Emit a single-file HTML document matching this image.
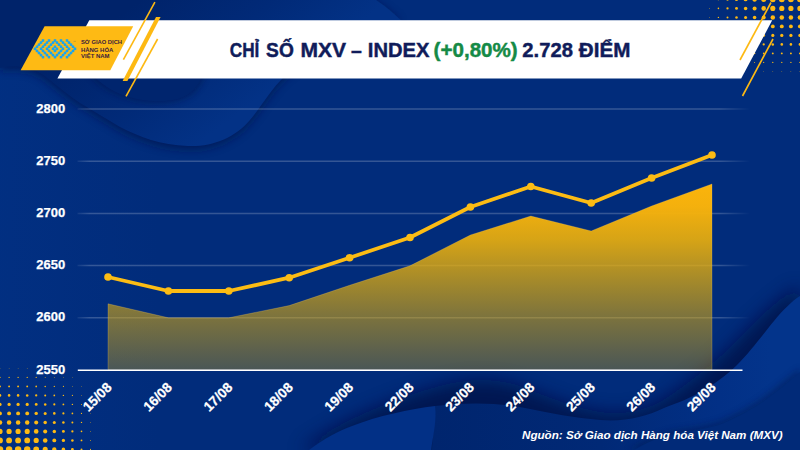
<!DOCTYPE html>
<html lang="vi"><head><meta charset="utf-8"><title>Chỉ số MXV-Index</title>
<style>
html,body{margin:0;padding:0;background:#012c7b;}
body{width:800px;height:450px;overflow:hidden;position:relative;font-family:"Liberation Sans",sans-serif;}
svg{position:absolute;left:0;top:0;display:block}
text{font-family:"Liberation Sans",sans-serif;}
</style></head><body>
<svg width="800" height="450" viewBox="0 0 800 450">
<defs>
<linearGradient id="ag" gradientUnits="userSpaceOnUse" x1="0" y1="184" x2="0" y2="370">
<stop offset="0" stop-color="#fbb40b" stop-opacity="1"/>
<stop offset="0.12" stop-color="#f9b30b" stop-opacity="0.98"/>
<stop offset="0.3" stop-color="#eeb10b" stop-opacity="0.9"/>
<stop offset="0.57" stop-color="#e2ad0c" stop-opacity="0.68"/>
<stop offset="0.72" stop-color="#dfac0c" stop-opacity="0.55"/>
<stop offset="1" stop-color="#deac0c" stop-opacity="0.33"/>
</linearGradient>
<linearGradient id="w1" gradientUnits="userSpaceOnUse" x1="100" y1="30" x2="190" y2="150">
<stop offset="0" stop-color="#00236a"/><stop offset="0.55" stop-color="#012a78"/><stop offset="1" stop-color="#033286"/>
</linearGradient>
<linearGradient id="lg" gradientUnits="userSpaceOnUse" x1="0" y1="0" x2="160" y2="0">
<stop offset="0" stop-color="#023083" stop-opacity="0.8"/><stop offset="1" stop-color="#023083" stop-opacity="0"/>
</linearGradient>
<filter id="bl5" x="-10%" y="-20%" width="120%" height="140%"><feGaussianBlur stdDeviation="5"/></filter>
<filter id="bl7" x="-10%" y="-30%" width="120%" height="160%"><feGaussianBlur stdDeviation="7"/></filter>
<linearGradient id="w2" gradientUnits="userSpaceOnUse" x1="432" y1="0" x2="770" y2="0"><stop offset="0" stop-color="#00256e"/><stop offset="0.5" stop-color="#012976"/><stop offset="0.85" stop-color="#023086"/><stop offset="1" stop-color="#03348b"/></linearGradient>
<filter id="bl9" x="-10%" y="-40%" width="120%" height="180%"><feGaussianBlur stdDeviation="9"/></filter>
<linearGradient id="gl" gradientUnits="userSpaceOnUse" x1="76" y1="0" x2="750" y2="0"><stop offset="0" stop-color="#fff" stop-opacity="0.05"/><stop offset="0.02" stop-color="#fff" stop-opacity="0.2"/><stop offset="0.955" stop-color="#fff" stop-opacity="0.2"/><stop offset="1" stop-color="#fff" stop-opacity="0"/></linearGradient>
<filter id="bl" x="-10%" y="-10%" width="120%" height="120%"><feGaussianBlur stdDeviation="3"/></filter>
</defs>
<rect width="800" height="450" fill="#012c7b"/>
<!-- background waves -->
<rect x="0" y="60" width="160" height="390" fill="url(#lg)"/>
<g>
<path d="M0,0 H372 C385,8 392,16 400,21 C370,30 320,50 285,78 C270,92 262,108 250,122 C235,140 212,150 188,149 C160,148 140,140 120,130 C100,118 90,112 80,106 C62,94 50,82 40,76 C30,70 14,68 0,71 Z" fill="#00134a" opacity="0.7" filter="url(#bl5)"/>
<path d="M0,0 H376 C388,8 395,15 402,21 C372,30 320,48 285,76 C270,90 262,106 250,120 C235,138 212,147 188,146 C160,145 140,137 120,127 C100,115 90,109 80,103 C62,91 50,79 40,73 C30,67 14,65 0,68 Z" fill="url(#w1)"/>
<path d="M80,60 C90,80 105,90 120,96 C135,102 150,104 165,103 C185,102 198,94 204,78 L210,60 Z" fill="#00134a" opacity="0.45" filter="url(#bl)"/>
<path d="M82,60 C92,78 106,88 120,94 C135,100 150,102 165,101 C184,100 196,92 202,76 L208,60 Z" fill="#00256e"/>
</g>
<g>
<path d="M300,450 C320,436 335,428 350,420 C375,408 410,394 440,386 C470,378 500,378 525,388 C550,398 575,408 600,412 C625,416 645,410 662,401 C688,384 716,362 738,340 C760,316 782,296 800,286 V450 Z" fill="#000f40" opacity="0.7" filter="url(#bl9)"/>
<path d="M432,450 L435,406 C470,402 500,403 525,408 C550,413 575,418 600,420 C625,422 645,417 664,408 C680,402 690,398 699,393 C712,386 728,374 737,365 C750,352 764,333 774,321 C782,311 792,301 800,296 V450 Z" fill="url(#w2)"/>
<path d="M309,450 C325,438 338,431 352,426 C377,416 410,409 435,406 C437,420 433,436 431,450 Z" fill="#023086"/>
<path d="M628,450 C650,436 665,432 682,429 C700,426 712,424 722,420 C740,412 750,406 762,398 C778,386 790,376 800,368 V450 Z" fill="#00134a" opacity="0.4" filter="url(#bl)"/>
<path d="M634,450 C654,438 668,435 684,432 C702,429 714,427 724,423 C742,415 752,409 764,401 C780,389 792,379 800,372 V450 Z" fill="#012a78"/>
</g>
<!-- halftone dots -->
<g fill="#fdb913">
<circle cx="709.4" cy="-0.6" r="0.47"/>
<circle cx="718.4" cy="-0.6" r="0.90"/>
<circle cx="727.5" cy="-0.6" r="1.27"/>
<circle cx="736.5" cy="-0.6" r="1.62"/>
<circle cx="745.6" cy="-0.6" r="1.96"/>
<circle cx="754.6" cy="-0.6" r="2.27"/>
<circle cx="763.7" cy="-0.6" r="2.58"/>
<circle cx="772.8" cy="-0.6" r="2.88"/>
<circle cx="781.8" cy="-0.6" r="2.92"/>
<circle cx="790.9" cy="-0.6" r="2.92"/>
<circle cx="799.9" cy="-0.6" r="2.92"/>
<circle cx="709.4" cy="8.4" r="0.42"/>
<circle cx="718.4" cy="8.4" r="0.80"/>
<circle cx="727.5" cy="8.4" r="1.13"/>
<circle cx="736.5" cy="8.4" r="1.44"/>
<circle cx="745.6" cy="8.4" r="1.74"/>
<circle cx="754.6" cy="8.4" r="2.02"/>
<circle cx="763.7" cy="8.4" r="2.29"/>
<circle cx="772.8" cy="8.4" r="2.56"/>
<circle cx="781.8" cy="8.4" r="2.60"/>
<circle cx="790.9" cy="8.4" r="2.60"/>
<circle cx="799.9" cy="8.4" r="2.60"/>
<circle cx="709.4" cy="17.4" r="0.37"/>
<circle cx="718.4" cy="17.4" r="0.70"/>
<circle cx="727.5" cy="17.4" r="0.99"/>
<circle cx="736.5" cy="17.4" r="1.26"/>
<circle cx="745.6" cy="17.4" r="1.52"/>
<circle cx="754.6" cy="17.4" r="1.77"/>
<circle cx="763.7" cy="17.4" r="2.01"/>
<circle cx="772.8" cy="17.4" r="2.24"/>
<circle cx="781.8" cy="17.4" r="2.27"/>
<circle cx="790.9" cy="17.4" r="2.27"/>
<circle cx="799.9" cy="17.4" r="2.27"/>
<circle cx="709.4" cy="26.4" r="0.31"/>
<circle cx="718.4" cy="26.4" r="0.60"/>
<circle cx="727.5" cy="26.4" r="0.85"/>
<circle cx="736.5" cy="26.4" r="1.08"/>
<circle cx="745.6" cy="26.4" r="1.30"/>
<circle cx="754.6" cy="26.4" r="1.51"/>
<circle cx="763.7" cy="26.4" r="1.72"/>
<circle cx="772.8" cy="26.4" r="1.92"/>
<circle cx="781.8" cy="26.4" r="1.94"/>
<circle cx="790.9" cy="26.4" r="1.94"/>
<circle cx="799.9" cy="26.4" r="1.94"/>
<circle cx="709.4" cy="35.4" r="0.26"/>
<circle cx="718.4" cy="35.4" r="0.50"/>
<circle cx="727.5" cy="35.4" r="0.70"/>
<circle cx="736.5" cy="35.4" r="0.90"/>
<circle cx="745.6" cy="35.4" r="1.08"/>
<circle cx="754.6" cy="35.4" r="1.26"/>
<circle cx="763.7" cy="35.4" r="1.43"/>
<circle cx="772.8" cy="35.4" r="1.59"/>
<circle cx="781.8" cy="35.4" r="1.62"/>
<circle cx="790.9" cy="35.4" r="1.62"/>
<circle cx="799.9" cy="35.4" r="1.62"/>
<circle cx="718.4" cy="44.4" r="0.40"/>
<circle cx="727.5" cy="44.4" r="0.56"/>
<circle cx="736.5" cy="44.4" r="0.72"/>
<circle cx="745.6" cy="44.4" r="0.86"/>
<circle cx="754.6" cy="44.4" r="1.00"/>
<circle cx="763.7" cy="44.4" r="1.14"/>
<circle cx="772.8" cy="44.4" r="1.27"/>
<circle cx="781.8" cy="44.4" r="1.29"/>
<circle cx="790.9" cy="44.4" r="1.29"/>
<circle cx="799.9" cy="44.4" r="1.29"/>
<circle cx="718.4" cy="53.4" r="0.30"/>
<circle cx="727.5" cy="53.4" r="0.42"/>
<circle cx="736.5" cy="53.4" r="0.54"/>
<circle cx="745.6" cy="53.4" r="0.65"/>
<circle cx="754.6" cy="53.4" r="0.75"/>
<circle cx="763.7" cy="53.4" r="0.85"/>
<circle cx="772.8" cy="53.4" r="0.95"/>
<circle cx="781.8" cy="53.4" r="0.96"/>
<circle cx="790.9" cy="53.4" r="0.96"/>
<circle cx="799.9" cy="53.4" r="0.96"/>
<circle cx="727.5" cy="62.4" r="0.28"/>
<circle cx="736.5" cy="62.4" r="0.35"/>
<circle cx="745.6" cy="62.4" r="0.43"/>
<circle cx="754.6" cy="62.4" r="0.50"/>
<circle cx="763.7" cy="62.4" r="0.56"/>
<circle cx="772.8" cy="62.4" r="0.63"/>
<circle cx="781.8" cy="62.4" r="0.64"/>
<circle cx="790.9" cy="62.4" r="0.64"/>
<circle cx="799.9" cy="62.4" r="0.64"/>
<circle cx="763.7" cy="71.4" r="0.28"/>
<circle cx="772.8" cy="71.4" r="0.31"/>
<circle cx="781.8" cy="71.4" r="0.31"/>
<circle cx="790.9" cy="71.4" r="0.31"/>
<circle cx="799.9" cy="71.4" r="0.31"/>
<circle cx="0.0" cy="368.4" r="0.30"/>
<circle cx="9.1" cy="368.4" r="0.30"/>
<circle cx="18.1" cy="368.4" r="0.30"/>
<circle cx="27.2" cy="368.4" r="0.30"/>
<circle cx="36.2" cy="368.4" r="0.27"/>
<circle cx="0.0" cy="377.4" r="0.63"/>
<circle cx="9.1" cy="377.4" r="0.63"/>
<circle cx="18.1" cy="377.4" r="0.63"/>
<circle cx="27.2" cy="377.4" r="0.62"/>
<circle cx="36.2" cy="377.4" r="0.56"/>
<circle cx="45.2" cy="377.4" r="0.49"/>
<circle cx="54.3" cy="377.4" r="0.42"/>
<circle cx="63.4" cy="377.4" r="0.35"/>
<circle cx="72.4" cy="377.4" r="0.28"/>
<circle cx="0.0" cy="386.4" r="0.96"/>
<circle cx="9.1" cy="386.4" r="0.96"/>
<circle cx="18.1" cy="386.4" r="0.96"/>
<circle cx="27.2" cy="386.4" r="0.94"/>
<circle cx="36.2" cy="386.4" r="0.85"/>
<circle cx="45.2" cy="386.4" r="0.75"/>
<circle cx="54.3" cy="386.4" r="0.64"/>
<circle cx="63.4" cy="386.4" r="0.53"/>
<circle cx="72.4" cy="386.4" r="0.42"/>
<circle cx="81.5" cy="386.4" r="0.30"/>
<circle cx="0.0" cy="395.4" r="1.28"/>
<circle cx="9.1" cy="395.4" r="1.28"/>
<circle cx="18.1" cy="395.4" r="1.28"/>
<circle cx="27.2" cy="395.4" r="1.27"/>
<circle cx="36.2" cy="395.4" r="1.14"/>
<circle cx="45.2" cy="395.4" r="1.00"/>
<circle cx="54.3" cy="395.4" r="0.86"/>
<circle cx="63.4" cy="395.4" r="0.71"/>
<circle cx="72.4" cy="395.4" r="0.56"/>
<circle cx="81.5" cy="395.4" r="0.40"/>
<circle cx="0.0" cy="404.4" r="1.61"/>
<circle cx="9.1" cy="404.4" r="1.61"/>
<circle cx="18.1" cy="404.4" r="1.61"/>
<circle cx="27.2" cy="404.4" r="1.59"/>
<circle cx="36.2" cy="404.4" r="1.42"/>
<circle cx="45.2" cy="404.4" r="1.25"/>
<circle cx="54.3" cy="404.4" r="1.08"/>
<circle cx="63.4" cy="404.4" r="0.90"/>
<circle cx="72.4" cy="404.4" r="0.70"/>
<circle cx="81.5" cy="404.4" r="0.50"/>
<circle cx="90.5" cy="404.4" r="0.26"/>
<circle cx="0.0" cy="413.4" r="1.94"/>
<circle cx="9.1" cy="413.4" r="1.94"/>
<circle cx="18.1" cy="413.4" r="1.94"/>
<circle cx="27.2" cy="413.4" r="1.91"/>
<circle cx="36.2" cy="413.4" r="1.71"/>
<circle cx="45.2" cy="413.4" r="1.51"/>
<circle cx="54.3" cy="413.4" r="1.30"/>
<circle cx="63.4" cy="413.4" r="1.08"/>
<circle cx="72.4" cy="413.4" r="0.85"/>
<circle cx="81.5" cy="413.4" r="0.60"/>
<circle cx="90.5" cy="413.4" r="0.32"/>
<circle cx="0.0" cy="422.4" r="2.26"/>
<circle cx="9.1" cy="422.4" r="2.26"/>
<circle cx="18.1" cy="422.4" r="2.26"/>
<circle cx="27.2" cy="422.4" r="2.23"/>
<circle cx="36.2" cy="422.4" r="2.00"/>
<circle cx="45.2" cy="422.4" r="1.76"/>
<circle cx="54.3" cy="422.4" r="1.52"/>
<circle cx="63.4" cy="422.4" r="1.26"/>
<circle cx="72.4" cy="422.4" r="0.99"/>
<circle cx="81.5" cy="422.4" r="0.70"/>
<circle cx="90.5" cy="422.4" r="0.37"/>
<circle cx="0.0" cy="431.4" r="2.59"/>
<circle cx="9.1" cy="431.4" r="2.59"/>
<circle cx="18.1" cy="431.4" r="2.59"/>
<circle cx="27.2" cy="431.4" r="2.56"/>
<circle cx="36.2" cy="431.4" r="2.29"/>
<circle cx="45.2" cy="431.4" r="2.02"/>
<circle cx="54.3" cy="431.4" r="1.74"/>
<circle cx="63.4" cy="431.4" r="1.44"/>
<circle cx="72.4" cy="431.4" r="1.13"/>
<circle cx="81.5" cy="431.4" r="0.80"/>
<circle cx="90.5" cy="431.4" r="0.42"/>
<circle cx="0.0" cy="440.4" r="2.91"/>
<circle cx="9.1" cy="440.4" r="2.91"/>
<circle cx="18.1" cy="440.4" r="2.91"/>
<circle cx="27.2" cy="440.4" r="2.88"/>
<circle cx="36.2" cy="440.4" r="2.58"/>
<circle cx="45.2" cy="440.4" r="2.27"/>
<circle cx="54.3" cy="440.4" r="1.95"/>
<circle cx="63.4" cy="440.4" r="1.62"/>
<circle cx="72.4" cy="440.4" r="1.27"/>
<circle cx="81.5" cy="440.4" r="0.90"/>
<circle cx="90.5" cy="440.4" r="0.48"/>
<circle cx="0.0" cy="449.4" r="3.24"/>
<circle cx="9.1" cy="449.4" r="3.24"/>
<circle cx="18.1" cy="449.4" r="3.24"/>
<circle cx="27.2" cy="449.4" r="3.20"/>
<circle cx="36.2" cy="449.4" r="2.87"/>
<circle cx="45.2" cy="449.4" r="2.53"/>
<circle cx="54.3" cy="449.4" r="2.17"/>
<circle cx="63.4" cy="449.4" r="1.81"/>
<circle cx="72.4" cy="449.4" r="1.42"/>
<circle cx="81.5" cy="449.4" r="1.00"/>
<circle cx="90.5" cy="449.4" r="0.53"/>
</g>
<!-- banner -->
<polygon points="89.3,20.3 772.2,20.3 741.2,78.5 57.4,78.5" fill="#ffffff"/>
<polygon points="44.6,26.2 133.2,26.2 110.3,70.3 20.6,70.3" fill="#feba14"/>
<g stroke="#fdb913" stroke-linecap="butt" fill="none">
<line x1="154.9" y1="2.2" x2="123.4" y2="59.6" stroke-width="1.6"/>
<polygon points="156,17 160.6,17 127.4,81 122.6,81" fill="#fdb913" stroke="none"/>
<line x1="157.6" y1="39" x2="126" y2="96.4" stroke-width="1.6"/>
<line x1="771" y1="2.5" x2="740" y2="60" stroke-width="1.6"/>
<line x1="773" y1="39" x2="742.5" y2="96" stroke-width="1.6"/>
</g>
<!-- logo -->
<g fill="none" stroke="#19a4f0" stroke-opacity="0.55" stroke-width="1.5" stroke-linecap="square"><polyline points="43.00,40.50 35.00,48.82 43.00,57.14"/><polyline points="49.00,40.50 41.00,48.82 49.00,57.14"/><polyline points="55.00,40.50 47.00,48.82 55.00,57.14"/><polyline points="67.00,40.50 75.00,48.82 67.00,57.14"/><polyline points="61.00,40.50 69.00,48.82 61.00,57.14"/><polyline points="55.00,40.50 63.00,48.82 55.00,57.14"/><polygon points="55.00,46.74 57.00,48.82 55.00,50.90 53.00,48.82"/></g>
<g fill="#19a4f0"><rect x="33.75" y="47.57" width="2.5" height="2.5"/><rect x="35.75" y="45.49" width="2.5" height="2.5"/><rect x="35.75" y="49.65" width="2.5" height="2.5"/><rect x="37.75" y="43.41" width="2.5" height="2.5"/><rect x="37.75" y="51.73" width="2.5" height="2.5"/><rect x="39.75" y="41.33" width="2.5" height="2.5"/><rect x="39.75" y="47.57" width="2.5" height="2.5"/><rect x="39.75" y="53.81" width="2.5" height="2.5"/><rect x="41.75" y="39.25" width="2.5" height="2.5"/><rect x="41.75" y="45.49" width="2.5" height="2.5"/><rect x="41.75" y="49.65" width="2.5" height="2.5"/><rect x="41.75" y="55.89" width="2.5" height="2.5"/><rect x="43.75" y="43.41" width="2.5" height="2.5"/><rect x="43.75" y="51.73" width="2.5" height="2.5"/><rect x="45.75" y="41.33" width="2.5" height="2.5"/><rect x="45.75" y="47.57" width="2.5" height="2.5"/><rect x="45.75" y="53.81" width="2.5" height="2.5"/><rect x="47.75" y="39.25" width="2.5" height="2.5"/><rect x="47.75" y="45.49" width="2.5" height="2.5"/><rect x="47.75" y="49.65" width="2.5" height="2.5"/><rect x="47.75" y="55.89" width="2.5" height="2.5"/><rect x="49.75" y="43.41" width="2.5" height="2.5"/><rect x="49.75" y="51.73" width="2.5" height="2.5"/><rect x="51.75" y="41.33" width="2.5" height="2.5"/><rect x="51.75" y="47.57" width="2.5" height="2.5"/><rect x="51.75" y="53.81" width="2.5" height="2.5"/><rect x="53.75" y="39.25" width="2.5" height="2.5"/><rect x="53.75" y="45.49" width="2.5" height="2.5"/><rect x="53.75" y="49.65" width="2.5" height="2.5"/><rect x="53.75" y="55.89" width="2.5" height="2.5"/><rect x="55.75" y="41.33" width="2.5" height="2.5"/><rect x="55.75" y="47.57" width="2.5" height="2.5"/><rect x="55.75" y="53.81" width="2.5" height="2.5"/><rect x="57.75" y="43.41" width="2.5" height="2.5"/><rect x="57.75" y="51.73" width="2.5" height="2.5"/><rect x="59.75" y="39.25" width="2.5" height="2.5"/><rect x="59.75" y="45.49" width="2.5" height="2.5"/><rect x="59.75" y="49.65" width="2.5" height="2.5"/><rect x="59.75" y="55.89" width="2.5" height="2.5"/><rect x="61.75" y="41.33" width="2.5" height="2.5"/><rect x="61.75" y="47.57" width="2.5" height="2.5"/><rect x="61.75" y="53.81" width="2.5" height="2.5"/><rect x="63.75" y="43.41" width="2.5" height="2.5"/><rect x="63.75" y="51.73" width="2.5" height="2.5"/><rect x="65.75" y="39.25" width="2.5" height="2.5"/><rect x="65.75" y="45.49" width="2.5" height="2.5"/><rect x="65.75" y="49.65" width="2.5" height="2.5"/><rect x="65.75" y="55.89" width="2.5" height="2.5"/><rect x="67.75" y="41.33" width="2.5" height="2.5"/><rect x="67.75" y="47.57" width="2.5" height="2.5"/><rect x="67.75" y="53.81" width="2.5" height="2.5"/><rect x="69.75" y="43.41" width="2.5" height="2.5"/><rect x="69.75" y="51.73" width="2.5" height="2.5"/><rect x="71.75" y="45.49" width="2.5" height="2.5"/><rect x="71.75" y="49.65" width="2.5" height="2.5"/><rect x="73.75" y="47.57" width="2.5" height="2.5"/></g>
<text x="72.6" y="42.6" font-size="3.4" fill="#6f7f6a" fill-opacity="0.8">™</text>
<g fill="#3a1c3c" font-size="6.1" font-weight="700">
<text x="81" y="44.3" textLength="41" lengthAdjust="spacingAndGlyphs">SỞ GIAO DỊCH</text>
<text x="81" y="52.0" textLength="32.3" lengthAdjust="spacingAndGlyphs">HÀNG HÓA</text>
<text x="81" y="58.2" textLength="28.6" lengthAdjust="spacingAndGlyphs">VIỆT NAM</text>
</g>
<!-- title -->
<g font-size="21" font-weight="700" fill="#101c5a" stroke="#101c5a" stroke-width="0.45" paint-order="stroke">
<text y="56.7"><tspan x="229.8" textLength="29.6" lengthAdjust="spacingAndGlyphs">CHỈ</tspan> <tspan x="266.1" textLength="27.7" lengthAdjust="spacingAndGlyphs">SỐ</tspan> <tspan x="300.4" textLength="45.6" lengthAdjust="spacingAndGlyphs">MXV</tspan> <tspan x="351.1" textLength="10.8" lengthAdjust="spacingAndGlyphs">–</tspan> <tspan x="367.8" textLength="61.6" lengthAdjust="spacingAndGlyphs">INDEX</tspan> <tspan x="433.6" textLength="84.1" lengthAdjust="spacingAndGlyphs" fill="#148a46" stroke="#148a46">(+0,80%)</tspan> <tspan x="522.3" textLength="50.6" lengthAdjust="spacingAndGlyphs">2.728</tspan> <tspan x="578.8" textLength="51.6" lengthAdjust="spacingAndGlyphs">ĐIỂM</tspan></text>
</g>
<!-- chart -->
<g stroke="url(#gl)" stroke-width="1.5">
<line x1="77.5" x2="750" y1="317.8" y2="317.8"/>
<line x1="77.5" x2="750" y1="265.6" y2="265.6"/>
<line x1="77.5" x2="750" y1="213.4" y2="213.4"/>
<line x1="77.5" x2="750" y1="161.2" y2="161.2"/>
<line x1="77.5" x2="750" y1="109.0" y2="109.0"/>
</g>
<path d="M108.0,303.8 L168.4,317.8 L228.8,317.8 L289.2,305.6 L349.6,285.3 L410.0,265.8 L470.4,235.0 L530.8,216.0 L591.2,231.0 L651.6,206.0 L712.0,184.0 L712.0,369.5 L108.0,369.5 Z" fill="url(#ag)" stroke="#ffd36a" stroke-opacity="0.3" stroke-width="0.8"/>
<line x1="77.8" x2="742.5" y1="370.2" y2="370.2" stroke="#ffffff" stroke-width="1.4"/>
<path d="M108.0,277.0 L168.4,291.0 L228.8,291.0 L289.2,277.7 L349.6,257.7 L410.0,237.5 L470.4,207.0 L530.8,186.5 L591.2,203.0 L651.6,178.0 L712.0,155.0" fill="none" stroke="#fcbc14" stroke-width="3.8" stroke-linejoin="round" stroke-linecap="round"/>
<g fill="#fcbc14"><circle cx="108.0" cy="277.0" r="3.8"/><circle cx="168.4" cy="291.0" r="3.8"/><circle cx="228.8" cy="291.0" r="3.8"/><circle cx="289.2" cy="277.7" r="3.8"/><circle cx="349.6" cy="257.7" r="3.8"/><circle cx="410.0" cy="237.5" r="3.8"/><circle cx="470.4" cy="207.0" r="3.8"/><circle cx="530.8" cy="186.5" r="3.8"/><circle cx="591.2" cy="203.0" r="3.8"/><circle cx="651.6" cy="178.0" r="3.8"/><circle cx="712.0" cy="155.0" r="3.8"/></g>
<g fill="#ffffff" font-size="13" font-weight="700" stroke="#ffffff" stroke-width="0.25">
<text x="65.2" y="373.6" text-anchor="end">2550</text>
<text x="65.2" y="321.4" text-anchor="end">2600</text>
<text x="65.2" y="269.2" text-anchor="end">2650</text>
<text x="65.2" y="217.0" text-anchor="end">2700</text>
<text x="65.2" y="164.8" text-anchor="end">2750</text>
<text x="65.2" y="112.6" text-anchor="end">2800</text>
</g>
<g fill="#ffffff" font-size="13.6" font-weight="700" stroke="#ffffff" stroke-width="0.25">
<text transform="translate(105.8,381.5) rotate(-45)" text-anchor="end" dy="0.7em">15/08</text>
<text transform="translate(166.2,381.5) rotate(-45)" text-anchor="end" dy="0.7em">16/08</text>
<text transform="translate(226.6,381.5) rotate(-45)" text-anchor="end" dy="0.7em">17/08</text>
<text transform="translate(287.0,381.5) rotate(-45)" text-anchor="end" dy="0.7em">18/08</text>
<text transform="translate(347.4,381.5) rotate(-45)" text-anchor="end" dy="0.7em">19/08</text>
<text transform="translate(407.8,381.5) rotate(-45)" text-anchor="end" dy="0.7em">22/08</text>
<text transform="translate(468.2,381.5) rotate(-45)" text-anchor="end" dy="0.7em">23/08</text>
<text transform="translate(528.6,381.5) rotate(-45)" text-anchor="end" dy="0.7em">24/08</text>
<text transform="translate(589.0,381.5) rotate(-45)" text-anchor="end" dy="0.7em">25/08</text>
<text transform="translate(649.4,381.5) rotate(-45)" text-anchor="end" dy="0.7em">26/08</text>
<text transform="translate(709.8,381.5) rotate(-45)" text-anchor="end" dy="0.7em">29/08</text>
</g>
<text x="522" y="438.8" font-size="11.7" font-weight="700" font-style="italic" fill="#ffffff" textLength="260.6" lengthAdjust="spacingAndGlyphs">Nguồn: Sở Giao dịch Hàng hóa Việt Nam (MXV)</text>
</svg>
</body></html>
